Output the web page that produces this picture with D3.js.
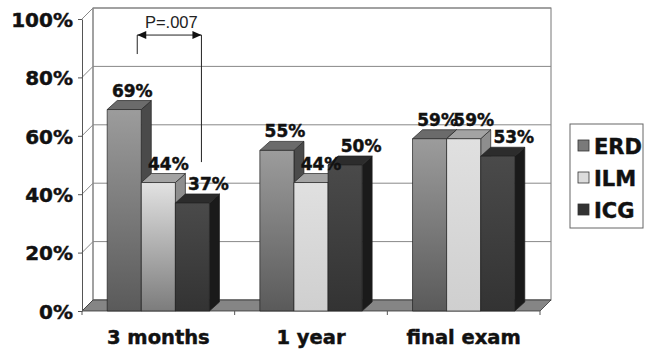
<!DOCTYPE html>
<html>
<head>
<meta charset="utf-8">
<script src="https://cdn.jsdelivr.net/npm/d3@7"></script>
<style>
  body { margin: 0; background: #fff; }
  svg { display: block; }
</style>
</head>
<body>
<svg id="chart" width="645" height="349"></svg>
<script>
// Chart data
const categories = ["3 months", "1 year", "final exam"];
const seriesNames = ["ERD", "ILM", "ICG"];
const erd = [69, 55, 59];
const ilm = [44, 44, 59];
const icg = [37, 50, 53];
const yTicks = [0, 20, 40, 60, 80, 100];
const pValueLabel = "P=.007";

const seriesValues = { ERD: erd, ILM: ilm, ICG: icg };

const svg = d3.select("#chart");
const FONT = "'DejaVu Sans', Verdana, sans-serif";

// 3D projection: depth offset of walls/floor and of the bars
const WDX = 11, WDY = -11;
const BDX = 10, BDY = -9;

const x0 = d3.scaleBand().domain(categories).range([82, 540]);
const groupPad = x0.bandwidth() * 0.165;
const x1 = d3.scaleBand().domain(seriesNames)
  .range([groupPad, x0.bandwidth() - groupPad]);
const y = d3.scaleLinear().domain([0, 100]).range([311, 19]);

const xL = x0.range()[0], xR = x0.range()[1];
const yTop = y(100), yBase = y(0);

// Shading per series
const style = {
  ERD: { top: "#6b6b6b", side: "#4a4a4a", grad: ["#9c9c9c", "#5a5a5a"], legend: "#7a7a7a", labelDx: 8 },
  ILM: { top: "#a3a3a3", side: "#8e8e8e", grad: ["#e0e0e0", "#cfcfcf"], legend: "#dcdcdc", labelDx: 10 },
  ICG: { top: "#2c2c2c", side: "#1a1a1a", grad: ["#4a4a4a", "#333333"], legend: "#333333", labelDx: 16 }
};

// Bold text helper: a thin same-colour outline thickens the strokes a little
function heavy(sel, size) {
  sel.attr("font-family", FONT).attr("font-weight", "bold").attr("font-size", size)
    .attr("fill", "#111").attr("stroke", "#111").attr("stroke-width", 0.45)
    .attr("paint-order", "stroke");
}

const defs = svg.append("defs");
function addGrad(id, c0, c1) {
  const g = defs.append("linearGradient").attr("id", id)
    .attr("x1", 0).attr("y1", 0).attr("x2", 0).attr("y2", 1);
  g.append("stop").attr("offset", "0%").attr("stop-color", c0);
  g.append("stop").attr("offset", "100%").attr("stop-color", c1);
}
seriesNames.forEach(s => addGrad("grad-" + s, style[s].grad[0], style[s].grad[1]));
addGrad("grad-ILM-dark", "#e2e2e2", "#7c7c7c");

// Back wall
svg.append("rect")
  .attr("x", xL + WDX).attr("y", yTop + WDY)
  .attr("width", xR - xL).attr("height", yBase - yTop)
  .attr("fill", "#fff").attr("stroke", "#777").attr("stroke-width", 1);

// Gridlines on back wall and left wall
const grid = svg.append("g").attr("stroke", "#888").attr("stroke-width", 1).attr("fill", "none");
yTicks.forEach(t => {
  grid.append("line")
    .attr("x1", xL + WDX).attr("x2", xR + WDX)
    .attr("y1", y(t) + WDY).attr("y2", y(t) + WDY);
  grid.append("line")
    .attr("x1", xL).attr("x2", xL + WDX)
    .attr("y1", y(t)).attr("y2", y(t) + WDY);
});
// Left wall back edge
grid.append("line")
  .attr("x1", xL + WDX).attr("x2", xL + WDX)
  .attr("y1", yTop + WDY).attr("y2", yBase + WDY);

// Floor
svg.append("polygon")
  .attr("points", [[xL, yBase], [xR, yBase], [xR + WDX, yBase + WDY], [xL + WDX, yBase + WDY]].join(" "))
  .attr("fill", "#858585").attr("stroke", "#333").attr("stroke-width", 0.8);

// Bars (drawn left to right so later faces cover earlier sides)
const barsG = svg.append("g").attr("stroke", "#222").attr("stroke-width", 0.7).attr("stroke-linejoin", "round");
const bw = x1.bandwidth();
const barData = [];
categories.forEach((c, ci) => {
  seriesNames.forEach(s => {
    barData.push({ cat: c, ci, s, v: seriesValues[s][ci] });
  });
});
barData.forEach(d => {
  const x = x0(d.cat) + x1(d.s);
  const yt = y(d.v);
  const st = style[d.s];
  const g = barsG.append("g");
  // side face
  g.append("polygon")
    .attr("points", [[x + bw, yBase], [x + bw + BDX, yBase + BDY], [x + bw + BDX, yt + BDY], [x + bw, yt]].join(" "))
    .attr("fill", st.side);
  // top face
  g.append("polygon")
    .attr("points", [[x, yt], [x + BDX, yt + BDY], [x + bw + BDX, yt + BDY], [x + bw, yt]].join(" "))
    .attr("fill", st.top);
  // front face
  const gradId = (d.s === "ILM" && d.ci === 0) ? "grad-ILM-dark" : "grad-" + d.s;
  g.append("rect")
    .attr("x", x).attr("y", yt).attr("width", bw).attr("height", yBase - yt)
    .attr("fill", `url(#${gradId})`);
});

// Value labels
svg.append("g")
  .selectAll("text")
  .data(barData)
  .join("text")
  .attr("x", d => x0(d.cat) + x1(d.s) + bw / 2 + style[d.s].labelDx)
  .attr("y", d => y(d.v) + BDY - 4)
  .attr("text-anchor", "middle")
  .call(heavy, 17)
  .text(d => d.v + "%");

// Y axis
const yAxis = svg.append("g")
  .attr("transform", `translate(${xL},0)`)
  .call(d3.axisLeft(y).tickValues(yTicks).tickFormat(d => d + "%").tickSize(4).tickSizeOuter(0).tickPadding(5));
yAxis.select(".domain").attr("stroke", "#555");
yAxis.selectAll(".tick line").attr("stroke", "#555");
yAxis.selectAll("text").call(heavy, 20).attr("dy", "0.36em");

// Category axis: labels centred, ticks at the category boundaries
const xAxis = svg.append("g")
  .attr("transform", `translate(0,${yBase})`)
  .call(d3.axisBottom(x0).tickSize(0).tickPadding(19));
xAxis.select(".domain").remove();
xAxis.selectAll("text").call(heavy, 19.5);
const bounds = categories.map(c => x0(c)).concat([xR]);
svg.append("g").selectAll("line").data(bounds).join("line")
  .attr("x1", d => d).attr("x2", d => d)
  .attr("y1", yBase).attr("y2", yBase + 4)
  .attr("stroke", "#555");

// Significance bracket between ERD and ICG at 3 months
const c0 = categories[0];
const bx1 = x0(c0) + x1("ERD") + bw / 2 + 13;
const bx2 = x0(c0) + x1("ICG") + bw / 2 + 9;
const by = y(94.5);
const ann = svg.append("g").attr("stroke", "#222").attr("stroke-width", 1);
ann.append("line").attr("x1", bx1).attr("x2", bx1).attr("y1", by).attr("y2", y(88));
ann.append("line").attr("x1", bx2).attr("x2", bx2).attr("y1", by).attr("y2", y(51));
ann.append("line").attr("x1", bx1).attr("x2", bx2).attr("y1", by).attr("y2", by);
ann.append("polygon")
  .attr("points", [[bx1, by], [bx1 + 9, by - 4], [bx1 + 9, by + 4]].join(" "))
  .attr("fill", "#111").attr("stroke", "none");
ann.append("polygon")
  .attr("points", [[bx2, by], [bx2 - 9, by - 4], [bx2 - 9, by + 4]].join(" "))
  .attr("fill", "#111").attr("stroke", "none");
svg.append("text")
  .attr("x", (bx1 + bx2) / 2 + 2).attr("y", 28)
  .attr("text-anchor", "middle")
  .attr("font-family", "'Liberation Sans', Arial, sans-serif").attr("font-size", 16.5)
  .attr("fill", "#222")
  .text(pValueLabel);

// Legend
const legend = svg.append("g");
legend.append("rect")
  .attr("x", 570).attr("y", 124).attr("width", 73).attr("height", 104)
  .attr("fill", "#fff").attr("stroke", "#666").attr("stroke-width", 1);
seriesNames.forEach((s, i) => {
  const cy = 146 + i * 32;
  legend.append("rect")
    .attr("x", 578).attr("y", cy - 6).attr("width", 11).attr("height", 11)
    .attr("fill", style[s].legend).attr("stroke", "#333").attr("stroke-width", 0.8);
  legend.append("text")
    .attr("x", 594).attr("y", cy + 7.5)
    .call(heavy, 21)
    .text(s);
});
</script>
</body>
</html>
